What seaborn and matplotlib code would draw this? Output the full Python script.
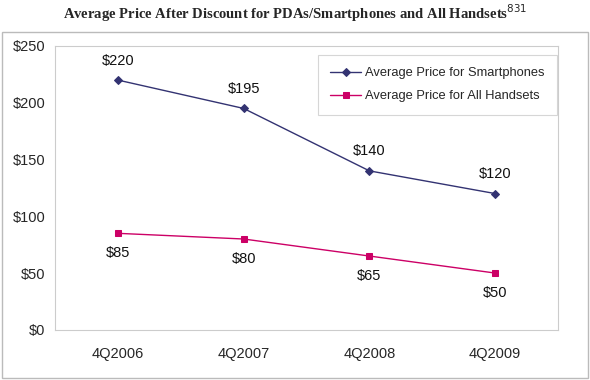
import pandas as pd
import matplotlib.pyplot as plt
import seaborn as sns
from matplotlib.patches import Rectangle
from matplotlib.ticker import FuncFormatter

quarters = ['4Q2006', '4Q2007', '4Q2008', '4Q2009']
smartphone_price = [220, 195, 140, 120]
handset_price = [85, 80, 65, 50]

series_names = ['Average Price for Smartphones', 'Average Price for All Handsets']
colors = ['#333372', '#CC0066']
markers = ['D', 's']

df = pd.DataFrame({
    'quarter': quarters * 2,
    'price': smartphone_price + handset_price,
    'series': [series_names[0]] * 4 + [series_names[1]] * 4,
})

sns.set_style('white')
plt.rcParams['font.family'] = ['Liberation Sans', 'DejaVu Sans']

fig = plt.figure(figsize=(5.9, 3.8), dpi=100)
ax = fig.add_axes([0.093, 0.132, 0.853, 0.747])

# outer chart frame
fig.patches.append(Rectangle((0.004, 0.005), 0.992, 0.91, transform=fig.transFigure,
                             fill=False, edgecolor='#BBBBBB', linewidth=1.0))

for name, color, marker in zip(series_names, colors, markers):
    sub = df[df['series'] == name]
    sns.lineplot(data=sub, x='quarter', y='price', ax=ax, color=color, marker=marker,
                 markersize=4 if marker == 'D' else 5, markeredgecolor=color,
                 linewidth=1.0, label=name, sort=False)

for i, v in enumerate(smartphone_price):
    ax.annotate(f'${v}', (i, v), xytext=(0, 9), textcoords='offset points',
                ha='center', va='bottom', fontsize=10.5, color='#111111')
for i, v in enumerate(handset_price):
    ax.annotate(f'${v}', (i, v), xytext=(0, -9), textcoords='offset points',
                ha='center', va='top', fontsize=10.5, color='#111111')

ax.set_xlim(-0.5, 3.5)
ax.set_ylim(0, 250)
ax.set_yticks(range(0, 251, 50))
ax.yaxis.set_major_formatter(FuncFormatter(lambda y, p: f'${int(y)}'))
ax.set_xlabel('')
ax.set_ylabel('')
ax.set_xticks(range(4))
ax.set_xticks([0.5, 1.5, 2.5], minor=True)
ax.tick_params(axis='x', which='major', length=0, pad=12, labelsize=10.5)
ax.tick_params(axis='x', which='minor', length=3, color='#BBBBBB', direction='in')
ax.tick_params(axis='y', length=3, color='#BBBBBB', labelsize=10.5, pad=4)
for side in ax.spines.values():
    side.set_color('#CCCCCC')
    side.set_linewidth(0.8)

leg = ax.legend(loc='upper right', bbox_to_anchor=(0.998, 0.968), frameon=True,
                fancybox=False, edgecolor='#CCCCCC', fontsize=9.3,
                handlelength=2.4, handletextpad=0.3, labelspacing=0.85,
                borderpad=0.95, borderaxespad=0)
leg.get_frame().set_linewidth(0.8)

fig.text(0.5, 0.966, 'Average Price After Discount for PDAs/Smartphones and All Handsets$^{831}$',
         ha='center', va='center', fontsize=10.5, fontweight='bold',
         family=['Liberation Serif', 'DejaVu Serif'])

fig.savefig('out.png', dpi=100)
